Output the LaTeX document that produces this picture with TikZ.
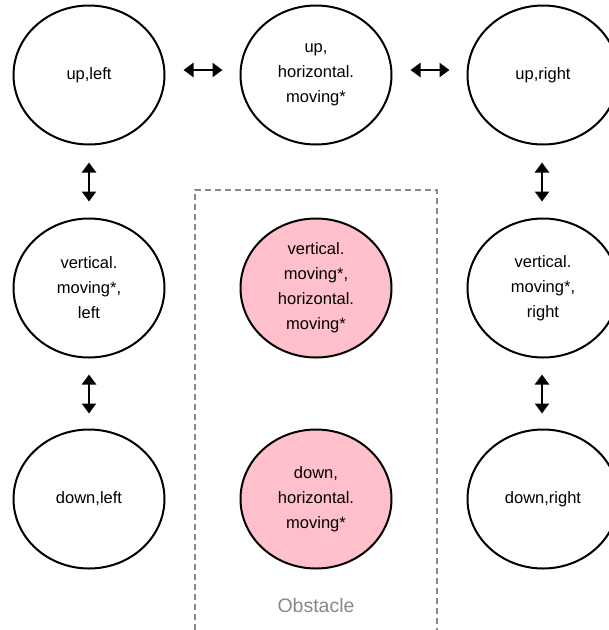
\documentclass[tikz,border=0pt]{standalone}
\usepackage{fontspec}
\setmainfont{Liberation Sans}
\usetikzlibrary{shapes.geometric,arrows.meta}
\definecolor{statepink}{HTML}{FFC0CB}
\definecolor{obstaclegray}{HTML}{888888}
\begin{document}
\begin{tikzpicture}[x=1pt,y=-1pt,
  state/.style={ellipse,draw=black,line width=2pt,minimum width=151pt,minimum height=139pt,
    inner sep=0pt,align=center,font=\fontsize{16.5pt}{25pt}\selectfont},
  blocked/.style={state,fill=statepink},
  link/.style={line width=2.4pt,{Triangle[length=10pt,width=14pt]}-{Triangle[length=10pt,width=14pt]}},
  wall/.style={draw=obstaclegray,line width=2pt,dash pattern=on 6pt off 4pt}]
  \useasboundingbox (0,0) rectangle (609,630);
  % grid of states
  \node[state] (ul) at (89,75) {up,left};
  \node[state] (um) at (316,75) {up,\\horizontal.\\moving*};
  \node[state] (ur) at (543,75) {up,right};
  \node[state] (ml) at (89,288) {vertical.\\moving*,\\left};
  \node[blocked] (mm) at (316,288) {vertical.\\moving*,\\horizontal.\\moving*};
  \node[state] (mr) at (543,288) {vertical.\\moving*,\\right};
  \node[state] (dl) at (89,499) {down,left};
  \node[blocked] (dm) at (316,499) {down,\\horizontal.\\moving*};
  \node[state] (dr) at (543,499) {down,right};
  % obstacle region
  \path[wall] (195,640) -- (195,190) -- (437,190) -- (437,640);
  \node[text=obstaclegray,font=\fontsize{19.5pt}{24pt}\selectfont] (obs) at (316,606) {Obstacle};
  % transitions
  \draw[link,transform canvas={yshift=5pt},shorten <=18pt,shorten >=17pt] (ul) -- (um);
  \draw[link,transform canvas={yshift=5pt},shorten <=18pt,shorten >=17pt] (um) -- (ur);
  \draw[link,shorten <=17pt,shorten >=16pt] (ul) -- (ml);
  \draw[link,shorten <=16pt,shorten >=15pt] (ml) -- (dl);
  \draw[link,transform canvas={xshift=-1pt},shorten <=17pt,shorten >=16pt] (ur) -- (mr);
  \draw[link,transform canvas={xshift=-1pt},shorten <=16pt,shorten >=15pt] (mr) -- (dr);
\end{tikzpicture}
\end{document}
